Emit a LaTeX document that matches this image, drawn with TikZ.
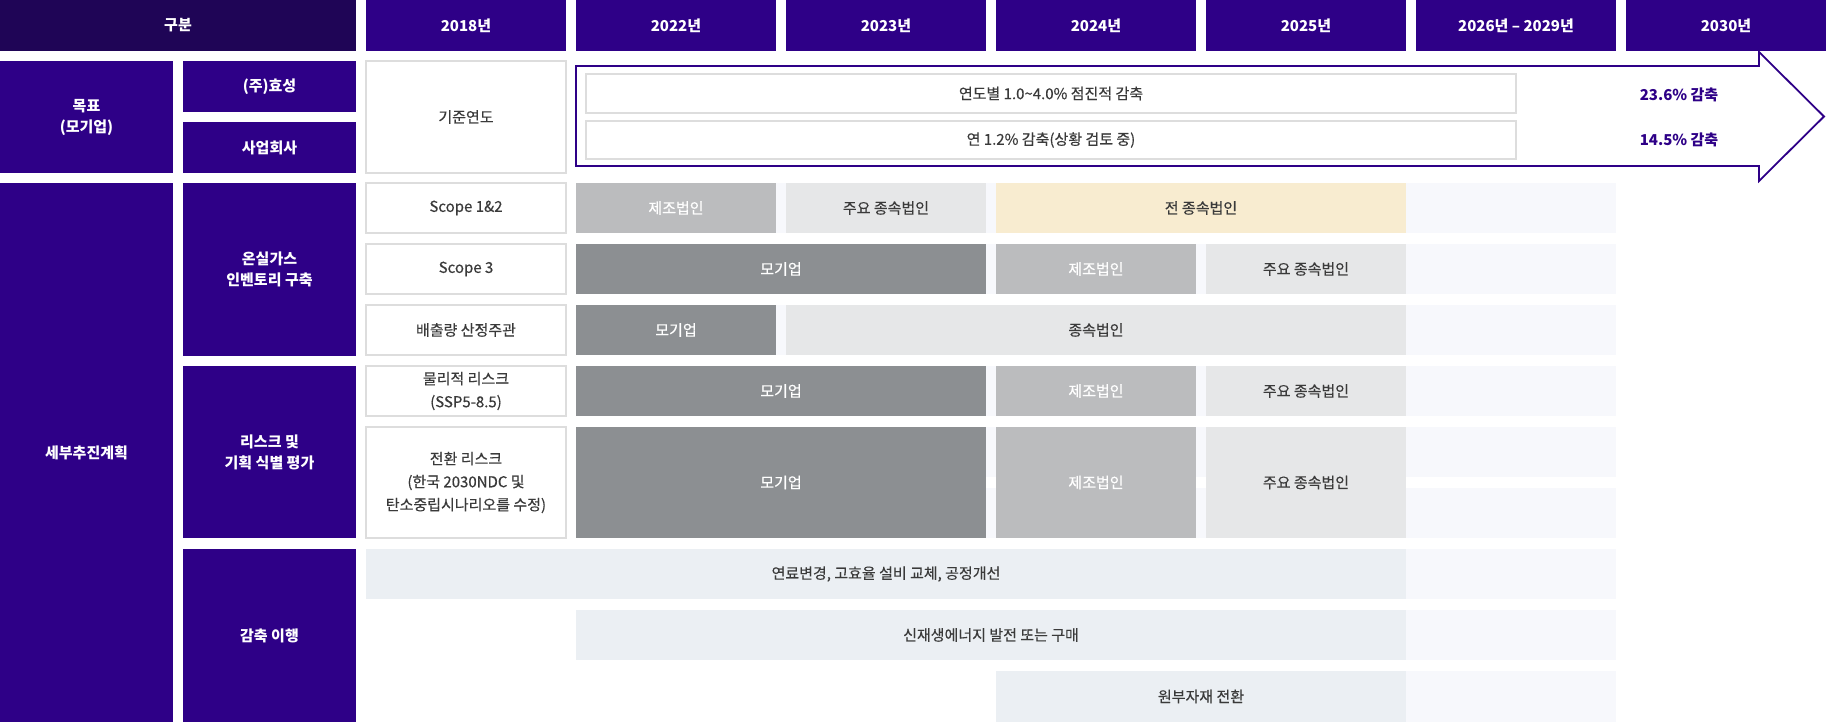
\documentclass[tikz,border=0pt]{standalone}
\usepackage{fontspec}
\setmainfont{Noto Sans CJK KR}
\newfontfamily\krmed{Noto Sans CJK KR}[FakeBold=0.35]
\definecolor{hpur}{HTML}{2E0087}
\definecolor{hdark}{HTML}{1F0556}
\definecolor{txt}{HTML}{3A3A3A}
\definecolor{lblline}{HTML}{DDDDDD}
\definecolor{cparent}{HTML}{8C8F92}
\definecolor{cmanu}{HTML}{BBBCBE}
\definecolor{csub}{HTML}{E6E7E8}
\definecolor{call}{HTML}{F8ECD0}
\definecolor{cred}{HTML}{EBEFF3}
\definecolor{cband}{HTML}{F7F8FC}
\newcommand\cellnode[6]{\node[#1, anchor=north west, minimum width=#4, minimum height=#5] (#2) at #3 {#6};}
\tikzset{
  base/.style={inner sep=0pt, outer sep=0pt, align=center, font=\fontsize{15}{23}\selectfont\krmed},
  hdr/.style={base, fill=hpur, text=white, font=\fontsize{15}{21}\selectfont\bfseries},
  hdrdark/.style={hdr, fill=hdark},
  lbl/.style={base, fill=white, draw=lblline, line width=1.2pt, text=txt},
  cparentbox/.style={base, fill=cparent, text=white},
  cmanubox/.style={base, fill=cmanu, text=white},
  csubbox/.style={base, fill=csub, text=txt},
  callbox/.style={base, fill=call, text=txt},
  credbox/.style={base, fill=cred, text=txt},
  bandbox/.style={base, fill=cband},
  pct/.style={base, text=hpur, font=\fontsize{15}{21}\selectfont\bfseries},
  arrowline/.style={draw=hpur, line width=1.8pt, fill=white, line join=miter}
}
\begin{document}
\begin{tikzpicture}[x=1pt,y=-1pt]
\useasboundingbox (0,0) rectangle (1826,722);
% header row
\cellnode{hdrdark}{h0}{(0,0)}{356pt}{51pt}{구분}
\cellnode{hdr}{h1}{(366,0)}{200pt}{51pt}{2018년}
\cellnode{hdr}{h2}{(576,0)}{200pt}{51pt}{2022년}
\cellnode{hdr}{h3}{(786,0)}{200pt}{51pt}{2023년}
\cellnode{hdr}{h4}{(996,0)}{200pt}{51pt}{2024년}
\cellnode{hdr}{h5}{(1206,0)}{200pt}{51pt}{2025년}
\cellnode{hdr}{h6}{(1416,0)}{200pt}{51pt}{2026년 – 2029년}
\cellnode{hdr}{h7}{(1626,0)}{200pt}{51pt}{2030년}
% goal section
\cellnode{hdr}{goal}{(0,61)}{173pt}{112pt}{목표\\(모기업)}
\cellnode{hdr}{hs}{(183,61)}{173pt}{51pt}{(주)효성}
\cellnode{hdr}{biz}{(183,122)}{173pt}{51pt}{사업회사}
\cellnode{lbl}{base}{(366,61)}{200pt}{112pt}{기준연도}
% big arrow
\draw[arrowline] (576,66) -- (1759,66) -- (1759,52) -- (1824,116.5) -- (1759,181) -- (1759,166) -- (576,166) -- cycle;
\cellnode{lbl}{g1}{(586,74)}{930pt}{39pt}{연도별 1.0\textasciitilde 4.0\% 점진적 감축}
\cellnode{lbl}{g2}{(586,121)}{930pt}{38pt}{연 1.2\% 감축(상황 검토 중)}
\node[pct] (p1) at (1679,95) {23.6\% 감축};
\node[pct] (p2) at (1679,140) {14.5\% 감축};
% plan section left columns
\cellnode{hdr}{plan}{(0,183)}{173pt}{539pt}{세부추진계획}
\cellnode{hdr}{inv}{(183,183)}{173pt}{173pt}{온실가스\\인벤토리 구축}
\cellnode{hdr}{risk}{(183,366)}{173pt}{172pt}{리스크 및\\기획 식별 평가}
\cellnode{hdr}{red}{(183,549)}{173pt}{173pt}{감축 이행}
% bands
\cellnode{bandbox}{b1}{(576,183)}{1040pt}{50pt}{}
\cellnode{bandbox}{b2}{(576,244)}{1040pt}{50pt}{}
\cellnode{bandbox}{b3}{(576,305)}{1040pt}{50pt}{}
\cellnode{bandbox}{b4}{(576,366)}{1040pt}{50pt}{}
\cellnode{bandbox}{b5}{(576,427)}{1040pt}{50pt}{}
\cellnode{bandbox}{b6}{(576,488)}{1040pt}{50pt}{}
\cellnode{bandbox}{b7}{(1406,549)}{210pt}{50pt}{}
\cellnode{bandbox}{b8}{(1406,610)}{210pt}{50pt}{}
\cellnode{bandbox}{b9}{(1406,671)}{210pt}{51pt}{}
% row labels
\cellnode{lbl}{l1}{(366,183)}{200pt}{50pt}{Scope 1\&2}
\cellnode{lbl}{l2}{(366,244)}{200pt}{50pt}{Scope 3}
\cellnode{lbl}{l3}{(366,305)}{200pt}{50pt}{배출량 산정주관}
\cellnode{lbl}{l4}{(366,366)}{200pt}{50pt}{물리적 리스크\\(SSP5-8.5)}
\cellnode{lbl}{l5}{(366,427)}{200pt}{111pt}{전환 리스크\\(한국 2030NDC 및\\탄소중립시나리오를 수정)}
% row 1
\cellnode{cmanubox}{r1a}{(576,183)}{200pt}{50pt}{제조법인}
\cellnode{csubbox}{r1b}{(786,183)}{200pt}{50pt}{주요 종속법인}
\cellnode{callbox}{r1c}{(996,183)}{410pt}{50pt}{전 종속법인}
% row 2
\cellnode{cparentbox}{r2a}{(576,244)}{410pt}{50pt}{모기업}
\cellnode{cmanubox}{r2b}{(996,244)}{200pt}{50pt}{제조법인}
\cellnode{csubbox}{r2c}{(1206,244)}{200pt}{50pt}{주요 종속법인}
% row 3
\cellnode{cparentbox}{r3a}{(576,305)}{200pt}{50pt}{모기업}
\cellnode{csubbox}{r3b}{(786,305)}{620pt}{50pt}{종속법인}
% row 4
\cellnode{cparentbox}{r4a}{(576,366)}{410pt}{50pt}{모기업}
\cellnode{cmanubox}{r4b}{(996,366)}{200pt}{50pt}{제조법인}
\cellnode{csubbox}{r4c}{(1206,366)}{200pt}{50pt}{주요 종속법인}
% row 5
\cellnode{cparentbox}{r5a}{(576,427)}{410pt}{111pt}{모기업}
\cellnode{cmanubox}{r5b}{(996,427)}{200pt}{111pt}{제조법인}
\cellnode{csubbox}{r5c}{(1206,427)}{200pt}{111pt}{주요 종속법인}
% reduction rows
\cellnode{credbox}{r6}{(366,549)}{1040pt}{50pt}{연료변경, 고효율 설비 교체, 공정개선}
\cellnode{credbox}{r7}{(576,610)}{830pt}{50pt}{신재생에너지 발전 또는 구매}
\cellnode{credbox}{r8}{(996,671)}{410pt}{51pt}{원부자재 전환}
\end{tikzpicture}
\end{document}
